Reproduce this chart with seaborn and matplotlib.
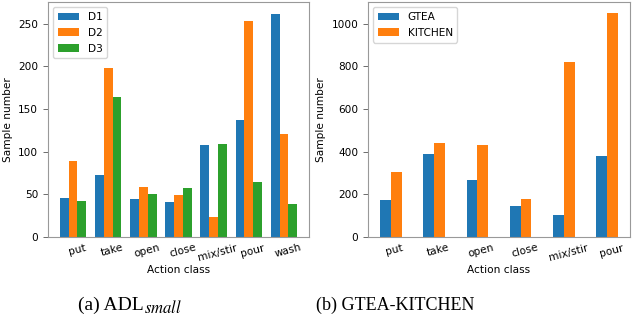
import matplotlib
matplotlib.use("Agg")
import matplotlib.pyplot as plt
import matplotlib.transforms as mtransforms
import seaborn as sns
import pandas as pd

# Action classes and per-dataset sample counts
adl_actions = ["put", "take", "open", "close", "mix/stir", "pour", "wash"]
adl_d1 = [46, 73, 45, 41, 108, 137, 262]
adl_d2 = [89, 198, 59, 49, 24, 253, 121]
adl_d3 = [42, 164, 50, 58, 109, 65, 39]
adl_series = ["D1", "D2", "D3"]

gk_actions = ["put", "take", "open", "close", "mix/stir", "pour"]
gk_gtea = [174, 389, 267, 146, 104, 380]
gk_kitchen = [304, 441, 433, 180, 819, 1050]
gk_series = ["GTEA", "KITCHEN"]

palette = ["#1f77b4", "#ff7f0e", "#2ca02c"]

def long_table(actions, series_names, series_values):
    rows = []
    for name, vals in zip(series_names, series_values):
        for a, v in zip(actions, vals):
            rows.append({"action": a, "dataset": name, "count": v})
    return pd.DataFrame(rows)

df_adl = long_table(adl_actions, adl_series, [adl_d1, adl_d2, adl_d3])
df_gk = long_table(gk_actions, gk_series, [gk_gtea, gk_kitchen])

plt.rcParams["font.family"] = ["DejaVu Sans"]
plt.rcParams["mathtext.fontset"] = "stix"

fig = plt.figure(figsize=(6.37, 3.31), dpi=100)
W, H = 637, 331
ax1 = fig.add_axes([48 / W, 1 - 237 / H, (309 - 48) / W, (237 - 2) / H])
ax2 = fig.add_axes([368 / W, 1 - 237 / H, (630 - 368) / W, (237 - 2) / H])

FS = 7.6

def draw(ax, df, actions, series_names, group_width):
    sns.barplot(data=df, x="action", y="count", hue="dataset",
                order=actions, hue_order=series_names,
                palette=palette[:len(series_names)], saturation=1,
                width=group_width, gap=0, errorbar=None, ax=ax,
                edgecolor="none")
    n = len(actions)
    half = group_width / 2
    span = (n - 1) + group_width
    ax.set_xlim(-half - 0.05 * span, n - 1 + half + 0.05 * span)
    ax.set_xlabel("Action class", fontsize=FS, labelpad=2)
    ax.set_ylabel("Sample number", fontsize=FS)
    ax.tick_params(axis="both", labelsize=FS)
    ax.tick_params(axis="y", length=3.5, width=0.6, color="#555555")
    ax.tick_params(axis="x", length=0, pad=4, rotation=15)
    shift = mtransforms.ScaledTranslation(4 / 100, 0, fig.dpi_scale_trans)
    for lbl in ax.get_xticklabels():
        lbl.set_transform(lbl.get_transform() + shift)
    for s in ax.spines.values():
        s.set_color("#999999")
        s.set_linewidth(0.8)
    handles, labels = ax.get_legend_handles_labels()
    ax.legend(handles, labels, loc="upper left", fontsize=FS, frameon=True,
              handlelength=2, borderpad=0.45, labelspacing=0.55)

draw(ax1, df_adl, adl_actions, adl_series, 0.75)
draw(ax2, df_gk, gk_actions, gk_series, 0.5)
ax1.set_ylim(0, 275.5)
ax2.set_ylim(0, 1102.5)

# Sub-figure captions
serif = ["Liberation Serif"]
cap_y = 1 - 310 / H
cap_a = fig.text(78 / W, cap_y, "(a) ADL", ha="left", va="baseline",
                 fontsize=14, family=serif)
fig.canvas.draw()
bb = cap_a.get_window_extent()
fig.text(bb.x1 / fig.bbox.width, cap_y - 3 / H, r"$\mathit{small}$",
         ha="left", va="baseline", fontsize=12)
fig.text(395 / W, cap_y, "(b) GTEA-KITCHEN", ha="center", va="baseline",
         fontsize=13, family=serif)

fig.savefig("out.png", dpi=100)
